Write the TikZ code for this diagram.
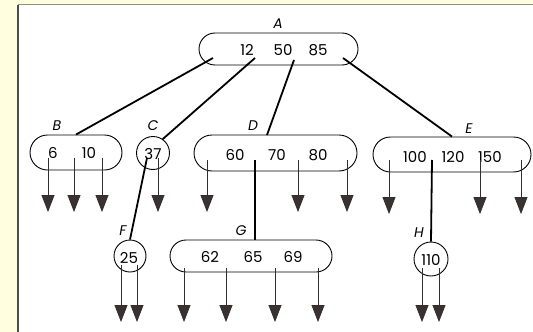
\documentclass[tikz,border=0pt]{standalone}
\usepackage{fontspec}
\setmainfont{Poppins}
\usetikzlibrary{shapes.misc,arrows.meta}
\definecolor{bgyellow}{HTML}{FFFFE0}
\definecolor{headcol}{HTML}{3A3232}
\begin{document}
\begin{tikzpicture}[x=1pt,y=-1pt,
  keybox/.style={rounded rectangle, draw, line width=0.9pt, inner sep=0pt},
  circbox/.style={circle, draw, line width=0.9pt, inner sep=0pt, minimum size=33pt},
  key/.style={font=\fontsize{15}{15}\selectfont, inner sep=0pt},
  lbl/.style={font=\fontsize{14}{14}\selectfont\itshape, inner sep=0pt},
  link/.style={line width=1.8pt},
  ptr/.style={line width=0.8pt, draw=headcol!90!black, -{Triangle[width=13pt,length=17pt,fill=headcol]}}]
\useasboundingbox (0,0) rectangle (533,332);
\fill[bgyellow] (0,0) rectangle (533,332);
\fill[white] (18,4) rectangle (533,332);
\draw[line width=1.2pt, black!70] (18,332) -- (18,4.5);
\draw[line width=1.2pt, black!45] (18,4.5) -- (533,4.5);
% nodes
\node[keybox, minimum width=159pt, minimum height=32pt] (A) at (278.5,49) {};
\node[keybox, minimum width=92pt, minimum height=35pt] (B) at (76,152.5) {};
\node[circbox] (C) at (153,153) {};
\node[keybox, minimum width=163pt, minimum height=36pt] (D) at (275.5,153) {};
\node[keybox, minimum width=158pt, minimum height=35pt] (E) at (452,154.5) {};
\node[circbox, minimum size=32pt] (F) at (130,256) {};
\node[keybox, minimum width=162pt, minimum height=32pt] (G) at (251,256) {};
\node[circbox, minimum size=34pt] (H) at (431,259) {};
% keys
\node[key] (a1) at (247,50) {12};
\node[key] (a2) at (283,50) {50};
\node[key] (a3) at (318,50) {85};
\node[key] (b1) at (53,153) {6};
\node[key] (b2) at (89,153) {10};
\node[key] (c1) at (153,154) {37};
\node[key] (d1) at (235,155) {60};
\node[key] (d2) at (277,155) {70};
\node[key] (d3) at (318,155) {80};
\node[key] (e1) at (415,157) {100};
\node[key] (e2) at (453,157) {120};
\node[key] (e3) at (490,157) {150};
\node[key] (f1) at (129,258) {25};
\node[key] (g1) at (210,257) {62};
\node[key] (g2) at (253,257) {65};
\node[key] (g3) at (293,257) {69};
\node[key] (h1) at (431,260) {110};
% labels
\node[lbl] (lA) at (278,24) {A};
\node[lbl] (lB) at (57,126) {B};
\node[lbl] (lC) at (153,126) {C};
\node[lbl] (lD) at (253,126) {D};
\node[lbl] (lE) at (469,129) {E};
\node[lbl] (lF) at (123,231) {F};
\node[lbl] (lG) at (241,231) {G};
\node[lbl] (lH) at (419,233) {H};
% link points
\coordinate (sA0) at (213,58);
\coordinate (sA1) at (255,58);
\coordinate (sA2) at (294,60);
\coordinate (sA3) at (343,58);
\coordinate (tD) at (267,135);
\coordinate (sC) at (147,158);
\coordinate (sD) at (255,160);
\coordinate (tG) at (255,240);
\coordinate (sE) at (432,160);
\draw[link] (sA0) -- (B.north);
\draw[link] (sA1) -- (C.55);
\draw[link] (sA2) -- (tD);
\draw[link] (sA3) -- (E.north);
\draw[link] (sC) -- (F.north);
\draw[link] (sD) -- (tG);
\draw[link] (sE) -- (H.north);
% pointers
\foreach \n/\x/\ys/\ye in {b1/48/158/212, b2/74/158/212, b3/102/158/212,
  c1/158/158/212,
  d1/207/160/212, d2/298/160/212, d3/347/160/212,
  e1/389/160/214, e2/480/160/214, e3/521/160/214,
  f1/121/265/322, f2/137/265/322,
  g1/184/268/322, g2/226/268/322, g3/275/268/322, g4/318/268/322,
  h1/422/268/322, h2/439/268/322}{
  \coordinate (p\n s) at (\x,\ys);
  \coordinate (p\n e) at (\x,\ye);
  \draw[ptr] (p\n s) -- (p\n e);
}
\end{tikzpicture}
\end{document}
